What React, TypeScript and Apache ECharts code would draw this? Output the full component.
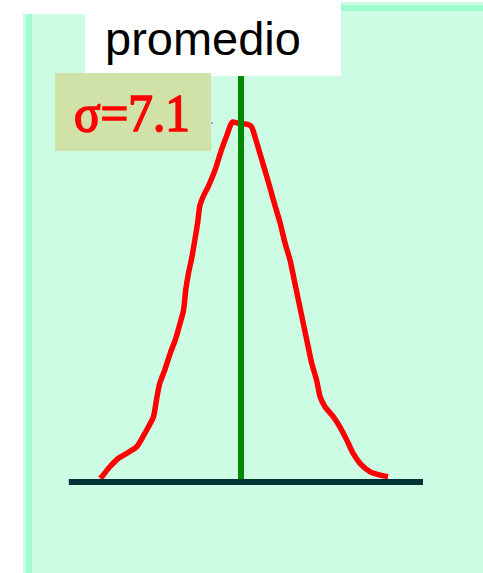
import React, { useEffect, useRef } from "react";
import * as echarts from "echarts";

// Distribution curve sampled along the x axis (mean at 0) and its heights.
const curveX = [
  -20.1, -19.7, -18.7, -17.5, -16.3, -14.9, -14.0, -13.2, -12.5, -12.0, -11.6,
  -10.9, -10.1, -9.4, -8.7, -8.2, -7.9, -7.5, -7.0, -6.6, -6.2, -5.9, -5.4,
  -4.7, -3.7, -2.8, -2.0, -1.2, -0.1, 0.8, 1.5, 2.0, 2.7, 3.4, 4.1, 4.9, 5.6,
  6.3, 7.0, 7.7, 8.7, 9.4, 10.1, 10.8, 11.3, 12.0, 13.2, 14.1, 15.1, 16.0,
  17.0, 18.4, 19.9, 21.0,
];
const curveY = [
  1.0, 1.9, 4.3, 6.6, 8.0, 9.8, 12.6, 15.4, 18.1, 23.7, 27.4, 31.1, 35.8,
  39.4, 44.1, 47.8, 53.3, 58.0, 62.6, 67.2, 71.9, 76.5, 79.3, 82.0, 86.7,
  92.2, 96.4, 100.0, 99.6, 99.4, 98.7, 95.9, 91.3, 86.7, 82.0, 76.5, 71.9,
  66.3, 61.7, 55.2, 45.9, 39.4, 33.0, 28.3, 23.7, 20.9, 18.1, 15.4, 11.7,
  8.0, 5.2, 2.9, 1.9, 1.5,
];

const mean = 0;
const meanLineTop = 112.8;
const baselineRange = [-24.6, 26];
const meanLabel = "promedio";
const sigmaLabel = "σ=7.1";

export default function App() {
  const ref = useRef<HTMLDivElement>(null);

  useEffect(() => {
    if (!ref.current) return;
    const chart = echarts.init(ref.current, undefined, { renderer: "svg" });

    const curve = curveX.map((x, i) => [x, curveY[i]]);

    chart.setOption({
      animation: false,
      backgroundColor: "#ffffff",
      grid: { left: 31, right: 32, top: 68, bottom: 91 },
      xAxis: { type: "value", min: -30, max: 30, show: false },
      yAxis: { type: "value", min: 0, max: 115, show: false },
      series: [
        {
          type: "line",
          data: curve,
          symbol: "none",
          smooth: 0.2,
          lineStyle: { color: "#ff0000", width: 5.5 },
          z: 3,
        },
        {
          type: "line",
          data: [
            [mean, 0],
            [mean, meanLineTop],
          ],
          symbol: "none",
          lineStyle: { color: "#008800", width: 6 },
          z: 4,
        },
        {
          type: "line",
          data: [
            [baselineRange[0], 0],
            [baselineRange[1], 0],
          ],
          symbol: "none",
          lineStyle: { color: "#003333", width: 6 },
          z: 5,
        },
      ],
      graphic: [
        // panel background and its edge stripes
        { type: "rect", z: 0, shape: { x: 23, y: 14, width: 460, height: 559 }, style: { fill: "#ccfce4" } },
        { type: "rect", z: 0, shape: { x: 341, y: 2, width: 142, height: 12 }, style: { fill: "#ccfce4" } },
        { type: "rect", z: 1, shape: { x: 26, y: 14, width: 6, height: 559 }, style: { fill: "#9efece" } },
        { type: "rect", z: 1, shape: { x: 341, y: 5, width: 142, height: 6 }, style: { fill: "#9efece" } },
        // label boxes
        { type: "rect", z: 10, shape: { x: 85, y: 0, width: 256, height: 76 }, style: { fill: "#ffffff" } },
        { type: "rect", z: 11, shape: { x: 55, y: 73, width: 156, height: 78 }, style: { fill: "#d0e2a8" } },
        { type: "rect", z: 11, shape: { x: 211, y: 122, width: 2, height: 2 }, style: { fill: "#88aaff" } },
        {
          type: "text",
          z: 12,
          x: 105,
          y: 38,
          style: {
            text: meanLabel,
            fill: "#000000",
            font: '47px "Liberation Sans", Arial, sans-serif',
            textAlign: "left",
            textVerticalAlign: "middle",
            verticalAlign: "middle",
          },
        },
        {
          type: "text",
          z: 12,
          x: 74,
          y: 112.5,
          scaleX: 0.93,
          style: {
            text: sigmaLabel,
            fill: "#ff0000",
            stroke: "#ff0000",
            lineWidth: 1.7,
            font: '53px "Liberation Serif", "Times New Roman", serif',
            textAlign: "left",
            textVerticalAlign: "middle",
            verticalAlign: "middle",
          },
        },
      ],
    });

    return () => chart.dispose();
  }, []);

  return (
    <div
      ref={ref}
      style={{ position: "fixed", left: 0, top: 0, width: 483, height: 573 }}
    />
  );
}
